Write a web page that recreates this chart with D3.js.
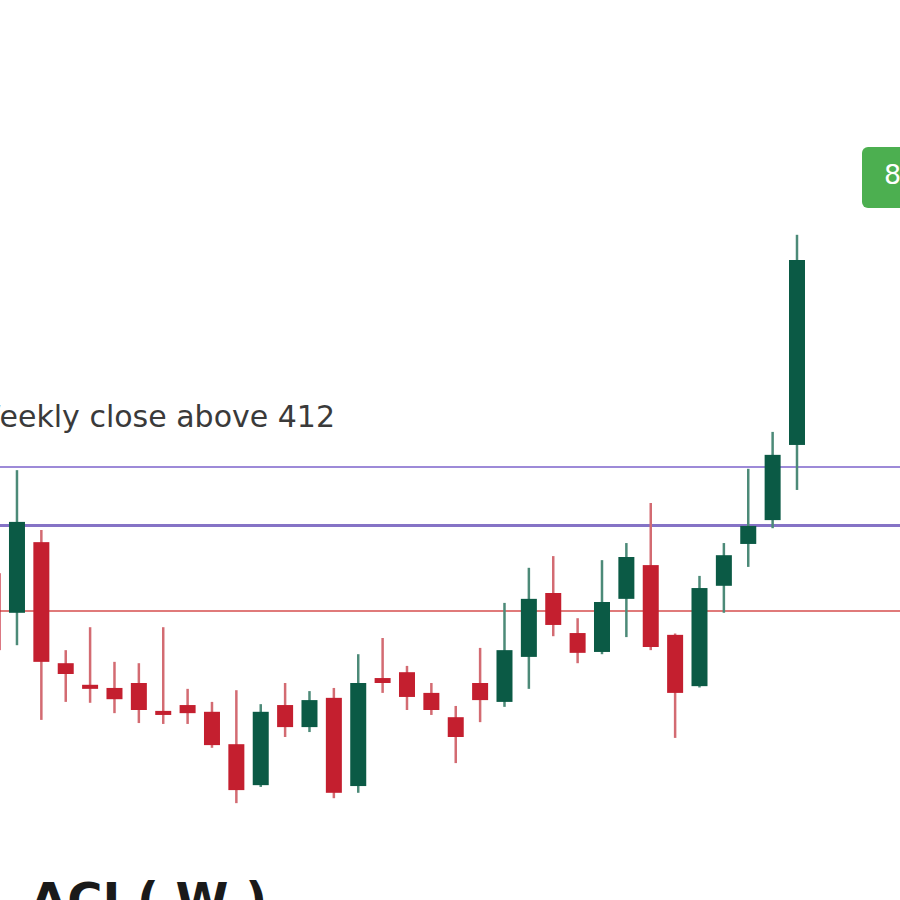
<!DOCTYPE html>
<html>
<head>
<meta charset="utf-8">
<script src="https://cdn.jsdelivr.net/npm/d3@7"></script>
<style>
  html, body { margin: 0; padding: 0; background: #ffffff; }
  svg { display: block; }
</style>
</head>
<body>
<svg id="chart" width="900" height="900"></svg>
<script>
// ---- data (weekly candles, left to right) ----
const weeks  = d3.range(34).map(i => "W" + (i + 1));
const opens  = [388.4, 379.6, 395.3, 368.4, 363.6, 362.9, 364.0, 357.8, 359.1, 357.6, 350.4, 341.3, 359.1, 354.2, 360.7, 341.1, 365.1, 366.4, 361.8, 356.4, 364.0, 359.8, 369.8, 384.0, 375.1, 370.9, 382.7, 390.2, 374.7, 363.3, 385.6, 394.9, 400.2, 416.9];
const highs  = [391.3, 411.3, 398.0, 371.3, 376.4, 368.7, 368.4, 376.4, 362.7, 359.8, 362.4, 359.3, 364.0, 362.2, 362.9, 370.4, 374.0, 367.8, 364.0, 358.9, 371.8, 381.8, 389.6, 392.2, 378.4, 391.3, 395.1, 404.0, 375.0, 387.8, 395.1, 411.6, 419.8, 463.6];
const lows   = [368.0, 372.4, 355.8, 359.8, 359.6, 357.3, 355.1, 354.9, 354.9, 349.6, 337.3, 340.9, 352.0, 353.1, 338.4, 339.6, 361.8, 358.0, 356.9, 346.2, 355.3, 358.7, 362.7, 374.4, 368.4, 370.4, 374.2, 371.3, 351.8, 363.0, 379.6, 389.8, 398.4, 406.9];
const closes = [371.3, 399.8, 368.7, 366.0, 362.7, 360.4, 358.0, 356.9, 357.3, 350.2, 340.2, 357.6, 354.2, 360.2, 339.6, 364.0, 364.0, 360.9, 358.0, 352.0, 360.2, 371.3, 382.7, 376.9, 370.7, 382.0, 392.0, 372.0, 361.8, 385.1, 392.4, 398.9, 414.7, 458.0];

const levelValues = [412, 399, 380];
const levelColors = ["#9d8ad8", "#8573c6", "#e07a7a"];
const levelWidths = [2, 3, 2];

const noteText   = "Weekly close above 412";
const badgeText  = "85%";
const tickerText = "ACI ( W )";

// ---- scales ----
const x = d3.scalePoint().domain(weeks).range([-7.4, 797]);
const y = d3.scaleLinear().domain([330, 470]).range([836, 206]);
const bodyW = 16;

const svg = d3.select("#chart");
svg.append("rect").attr("width", 900).attr("height", 900).attr("fill", "#ffffff");

// horizontal levels
svg.selectAll("line.level")
  .data(levelValues)
  .join("line")
  .attr("class", "level")
  .attr("x1", 0).attr("x2", 900)
  .attr("y1", d => y(d)).attr("y2", d => y(d))
  .attr("stroke", (d, i) => levelColors[i])
  .attr("stroke-width", (d, i) => levelWidths[i]);

// candles
const candles = weeks.map((w, i) => ({ w, o: opens[i], h: highs[i], l: lows[i], c: closes[i] }));
const up = "#0b5a45", down = "#c41f2f";
const upWick = "#4c8a78", downWick = "#d36b72";

const g = svg.append("g");
g.selectAll("line.wick")
  .data(candles)
  .join("line")
  .attr("class", "wick")
  .attr("x1", d => x(d.w)).attr("x2", d => x(d.w))
  .attr("y1", d => y(d.h)).attr("y2", d => y(d.l))
  .attr("stroke", d => d.c >= d.o ? upWick : downWick)
  .attr("stroke-width", 2.5);

g.selectAll("rect.body")
  .data(candles)
  .join("rect")
  .attr("class", "body")
  .attr("x", d => x(d.w) - bodyW / 2)
  .attr("width", bodyW)
  .attr("y", d => y(Math.max(d.o, d.c)))
  .attr("height", d => Math.max(3, Math.abs(y(d.o) - y(d.c))))
  .attr("fill", d => d.c >= d.o ? up : down);

// note text
svg.append("text")
  .attr("x", 335).attr("y", 427)
  .attr("text-anchor", "end")
  .attr("font-family", "DejaVu Sans")
  .attr("font-size", 30)
  .attr("fill", "#3a3a3a")
  .text(noteText);

// green badge at top right
svg.append("rect")
  .attr("x", 862).attr("y", 147)
  .attr("width", 80).attr("height", 61)
  .attr("rx", 6)
  .attr("fill", "#4caf50");
svg.append("text")
  .attr("x", 884).attr("y", 184)
  .attr("font-family", "DejaVu Sans")
  .attr("font-size", 27)
  .attr("fill", "#ffffff")
  .text(badgeText);

// ticker text at bottom
svg.append("text")
  .attr("x", 30).attr("y", 917)
  .attr("font-family", "DejaVu Sans")
  .attr("font-weight", "bold")
  .attr("font-size", 48)
  .attr("fill", "#1a1a1a")
  .text(tickerText);
</script>
</body>
</html>
